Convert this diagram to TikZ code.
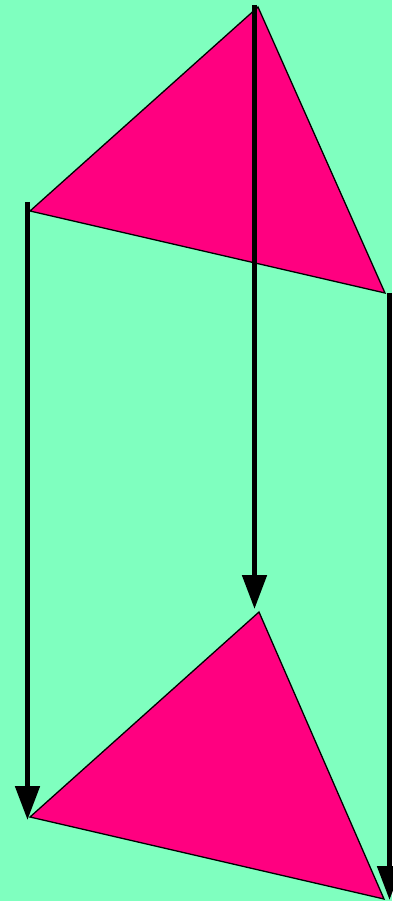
\documentclass[tikz,border=0pt]{standalone}
\usetikzlibrary{arrows.meta}
\definecolor{bg}{RGB}{127,255,191}
\definecolor{tri}{RGB}{255,0,128}
\begin{document}
\begin{tikzpicture}[x=1pt,y=-1pt,
  trifill/.style={fill=tri,draw=black,line width=1.3pt,line join=miter},
  vecarrow/.style={line width=5pt,-{Triangle[length=34pt,width=24pt]}}]
\fill[bg] (0,0) rectangle (392,901);
\useasboundingbox (0,0) rectangle (392,901);
% top triangle
\coordinate (A1) at (258,7);
\coordinate (B1) at (30,211);
\coordinate (C1) at (385,293);
% bottom triangle
\coordinate (A2) at (259,612);
\coordinate (B2) at (30,817);
\coordinate (C2) at (384,899);
\draw[trifill] (A1) -- (B1) -- (C1) -- cycle;
\draw[trifill] (A2) -- (B2) -- (C2) -- cycle;
% arrows
\coordinate (S1) at (254.5,5);
\coordinate (E1) at (254.5,609);
\coordinate (S2) at (27.5,202);
\coordinate (E2) at (27.5,820);
\coordinate (S3) at (389.5,293);
\coordinate (E3) at (389.5,900);
\draw[vecarrow] (S1) -- (E1);
\draw[vecarrow] (S2) -- (E2);
\draw[vecarrow] (S3) -- (E3);
\end{tikzpicture}
\end{document}
